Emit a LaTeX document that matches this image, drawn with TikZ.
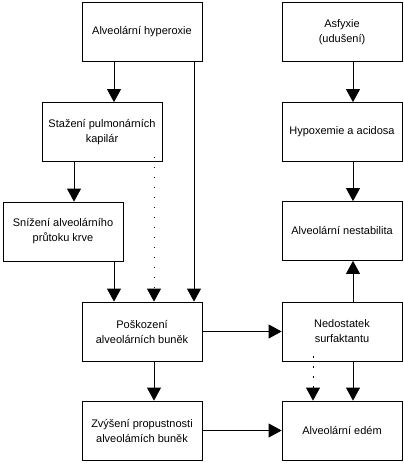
\documentclass[tikz,border=0pt]{standalone}
\usepackage{fontspec}
\setmainfont{Liberation Sans}
\usetikzlibrary{arrows.meta}
\begin{document}
\begin{tikzpicture}[x=1pt,y=-1pt,
  box/.style={draw,line width=0.8pt,rectangle,inner sep=0pt,minimum width=120pt,minimum height=59pt,align=center,font=\fontsize{11}{15}\selectfont},
  arr/.style={line width=0.8pt,-{Triangle[width=14pt,length=13pt]}},
  dotarr/.style={arr,dash pattern=on 1.2pt off 8.8pt}]
\useasboundingbox (0,0) rectangle (404,463);
\node[box] (hyper) at (142,32) {Alveolární hyperoxie};
\node[box] (staz) at (102,132) {Stažení pulmonárních\\kapilár};
\node[box] (sniz) at (63,231.5) {Snížení alveolárního\\průtoku krve};
\node[box] (posk) at (142,331.5) {Poškození\\alveolárních buněk};
\node[box] (zvys) at (142,430.5) {Zvýšení propustnosti\\alveolámích buněk};
\node[box] (asf) at (342,32) {Asfyxie\\(udušení)};
\node[box] (hypox) at (342,132) {Hypoxemie a acidosa};
\node[box] (nest) at (342,231) {Alveolární nestabilita};
\node[box] (nedo) at (342,331.5) {Nedostatek\\surfaktantu};
\node[box] (edem) at (342,430.5) {Alveolární edém};
\draw[arr] ([xshift=-28pt]hyper.south) -- ([xshift=-28pt]hyper.south |- staz.north);
\draw[arr] ([xshift=-28pt]staz.south) -- ([xshift=-28pt]staz.south |- sniz.north);
\draw[arr] ([xshift=51pt]sniz.south) -- ([xshift=51pt]sniz.south |- posk.north);
\draw[dotarr] ([xshift=52pt,yshift=5pt]staz.south) -- ([xshift=52pt]staz.south |- posk.north);
\draw[arr] ([xshift=52pt]hyper.south) -- ([xshift=52pt]hyper.south |- posk.north);
\draw[arr] ([xshift=12pt]posk.south) -- ([xshift=12pt]posk.south |- zvys.north);
\draw[arr] (posk.east) -- (nedo.west);
\draw[arr] (zvys.east) -- (edem.west);
\draw[arr] ([xshift=11pt]asf.south) -- ([xshift=11pt]hypox.north);
\draw[arr] ([xshift=11pt]hypox.south) -- ([xshift=11pt]nest.north);
\draw[arr] ([xshift=11pt]nedo.north) -- ([xshift=11pt]nest.south);
\draw[arr] ([xshift=11pt]nedo.south) -- ([xshift=11pt]edem.north);
\draw[dotarr] ([xshift=-29pt,yshift=5pt]nedo.south) -- ([xshift=-29pt]edem.north);
\end{tikzpicture}
\end{document}
